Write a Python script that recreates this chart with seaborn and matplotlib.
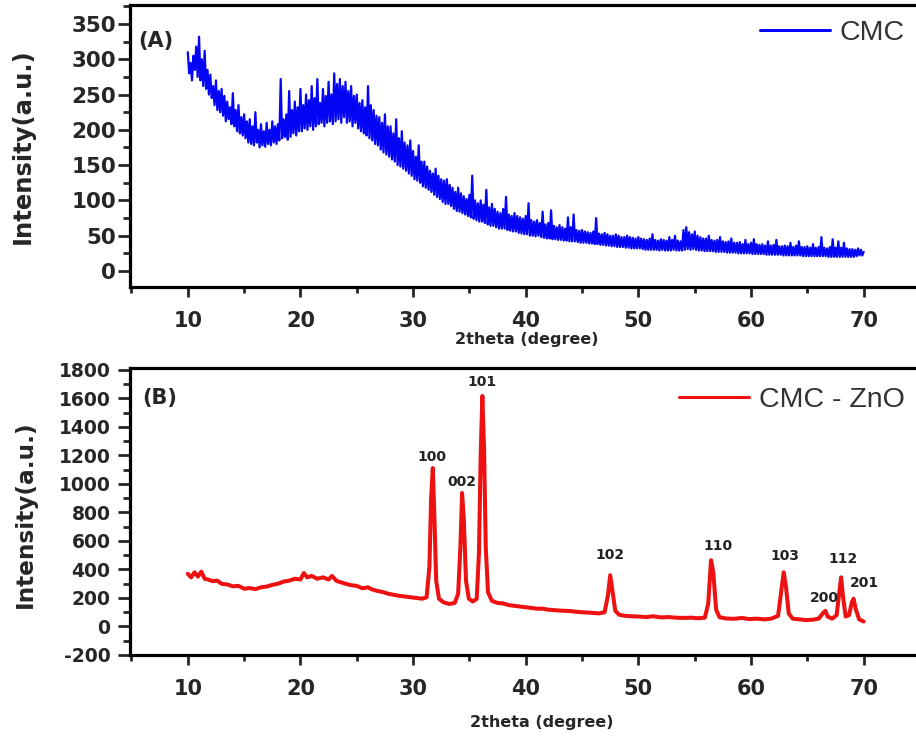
import numpy as np
import pandas as pd
import matplotlib
matplotlib.use("Agg")
import matplotlib.pyplot as plt
import seaborn as sns

# ---------------- data ----------------
cmc_start = 10.0
cmc_step = 0.125
cmc_y = [
    310, 280, 295, 270, 305, 285, 318, 275,
    332, 270, 300, 262, 312, 258, 285, 250,
    278, 245, 262, 235, 270, 228, 255, 225,
    258, 220, 248, 212, 240, 215, 232, 208,
    252, 205, 228, 198, 235, 195, 218, 192,
    222, 188, 212, 182, 215, 180, 205, 178,
    225, 182, 200, 175, 208, 178, 198, 176,
    210, 180, 200, 178, 212, 182, 205, 180,
    208, 185, 272, 188, 215, 190, 222, 186,
    255, 190, 228, 195, 240, 192, 232, 198,
    258, 198, 235, 202, 250, 200, 242, 205,
    262, 200, 245, 205, 272, 208, 238, 210,
    258, 205, 248, 210, 268, 212, 250, 208,
    280, 212, 265, 215, 272, 210, 262, 218,
    268, 210, 255, 212, 262, 205, 248, 210,
    250, 202, 238, 198, 242, 195, 232, 192,
    262, 188, 235, 185, 228, 180, 220, 178,
    218, 172, 210, 168, 222, 165, 205, 162,
    205, 158, 195, 155, 215, 150, 188, 148,
    198, 145, 182, 142, 178, 138, 185, 135,
    170, 130, 162, 128, 178, 125, 155, 120,
    155, 118, 148, 115, 142, 112, 138, 108,
    145, 105, 135, 102, 130, 98, 128, 95,
    130, 95, 122, 92, 118, 88, 112, 85,
    118, 84, 110, 82, 106, 80, 102, 78,
    108, 76, 135, 74, 100, 72, 96, 70,
    100, 70, 94, 68, 115, 66, 90, 64,
    95, 64, 88, 62, 84, 60, 82, 60,
    88, 60, 105, 58, 80, 57, 78, 56,
    82, 56, 78, 54, 76, 53, 74, 52,
    78, 52, 96, 50, 72, 50, 70, 49,
    72, 50, 68, 48, 84, 47, 66, 46,
    68, 46, 86, 45, 64, 45, 62, 44,
    65, 44, 62, 43, 60, 43, 76, 42,
    62, 42, 80, 42, 58, 41, 57, 40,
    58, 40, 56, 40, 55, 39, 54, 39,
    56, 38, 75, 38, 53, 37, 52, 37,
    54, 36, 52, 36, 50, 35, 50, 35,
    52, 34, 50, 34, 48, 34, 48, 33,
    50, 33, 48, 32, 47, 32, 46, 32,
    48, 32, 46, 31, 45, 30, 44, 30,
    46, 30, 52, 30, 44, 30, 43, 29,
    45, 30, 44, 29, 43, 29, 48, 29,
    44, 30, 50, 29, 43, 29, 42, 29,
    58, 30, 62, 31, 55, 30, 52, 31,
    56, 30, 50, 29, 48, 29, 46, 28,
    46, 28, 50, 28, 44, 28, 43, 27,
    44, 27, 48, 27, 42, 27, 41, 26,
    42, 26, 46, 26, 40, 26, 40, 25,
    41, 25, 38, 25, 44, 25, 38, 25,
    40, 24, 45, 24, 38, 24, 37, 24,
    38, 24, 36, 23, 42, 23, 36, 23,
    37, 23, 44, 23, 35, 23, 35, 22,
    36, 22, 35, 22, 40, 22, 34, 22,
    36, 22, 42, 22, 34, 21, 34, 21,
    35, 21, 33, 21, 38, 21, 33, 21,
    34, 21, 48, 21, 33, 21, 32, 20,
    34, 20, 45, 20, 33, 20, 42, 20,
    33, 20, 40, 20, 32, 20, 31, 20,
    31, 20, 30, 21, 32, 22, 30, 22,
    27,
]
cmc_x = [cmc_start + i * cmc_step for i in range(len(cmc_y))]

zno_x = [10.0, 10.3, 10.6, 10.9, 11.2, 11.5, 11.8, 12.2, 12.6, 13.0, 13.5, 14.0, 14.5,
         15.0, 15.5, 16.0, 16.5, 17.0, 17.5, 18.0, 18.5, 19.0, 19.5, 20.0, 20.3, 20.6,
         21.0, 21.5, 22.0, 22.5, 22.8, 23.2, 23.6, 24.0, 24.5, 25.0, 25.5, 26.0, 26.3,
         26.8, 27.3, 27.8, 28.3, 28.8, 29.3, 29.8, 30.3, 30.8, 31.2, 31.45, 31.6, 31.75,
         31.9, 32.05, 32.3, 32.7, 33.2, 33.7, 34.0, 34.2, 34.35, 34.5, 34.7, 34.95, 35.3,
         35.65, 35.85, 36.0, 36.15, 36.3, 36.45, 36.65, 37.0, 37.5, 38.0, 38.5, 39.0,
         39.5, 40.0, 40.5, 41.0, 41.5, 42.0, 42.5, 43.0, 43.5, 44.0, 44.5, 45.0, 45.5,
         46.0, 46.5, 47.0, 47.3, 47.5, 47.7, 47.95, 48.3, 48.8, 49.3, 50.0, 50.7, 51.3,
         52.0, 52.7, 53.3, 54.0, 54.7, 55.3, 55.9, 56.2, 56.45, 56.65, 56.9, 57.2, 57.8,
         58.5, 59.2, 59.8, 60.5, 61.2, 61.8, 62.4, 62.7, 62.9, 63.1, 63.35, 63.7, 64.3,
         64.9, 65.5, 66.0, 66.4, 66.6, 66.8, 67.2, 67.6, 67.85, 68.0, 68.15, 68.4, 68.7,
         68.95, 69.1, 69.3, 69.6, 70.0]
zno_y = [370, 345, 380, 350, 385, 335, 330, 318, 322, 300, 295, 282, 285,
         265, 270, 262, 275, 280, 292, 300, 315, 322, 335, 330, 375, 345,
         355, 335, 345, 330, 355, 320, 310, 300, 290, 285, 268, 275, 262,
         250, 242, 230, 222, 215, 210, 205, 200, 195, 205, 420, 900, 1112,
         750, 320, 195, 170, 158, 165, 230, 560, 937, 760, 320, 195, 175,
         195, 520, 1200, 1618, 1250, 560, 240, 180, 165, 162, 150, 145,
         140, 135, 130, 125, 125, 118, 115, 112, 110, 108, 103, 100, 98,
         95, 92, 100, 220, 360, 250, 110, 82, 75, 72, 70, 66, 72,
         64, 66, 62, 60, 62, 58, 62, 160, 465, 380, 120, 65, 56,
         54, 60, 52, 55, 50, 55, 75, 260, 380, 280, 90, 55, 50,
         45, 48, 55, 95, 110, 70, 55, 80, 250, 345, 220, 70, 80,
         170, 195, 120, 50, 35]

peak_labels = ["100", "002", "101", "102", "110", "103", "200", "112", "201"]
peak_label_x = [31.7, 34.3, 36.1, 47.5, 57.1, 63.0, 66.5, 68.2, 70.1]
peak_label_y = [1190, 1014, 1716, 502, 565, 495, 200, 474, 305]

x_ticks = [10, 20, 30, 40, 50, 60, 70]
top_yticks = [0, 50, 100, 150, 200, 250, 300, 350]
bot_yticks = [-200, 0, 200, 400, 600, 800, 1000, 1200, 1400, 1600, 1800]

df_cmc = pd.DataFrame({"x": cmc_x, "y": cmc_y})
df_zno = pd.DataFrame({"x": zno_x, "y": zno_y})

# ---------------- style ----------------
sns.set_style("ticks")
plt.rcParams["font.family"] = ["DejaVu Sans"]
plt.rcParams["axes.unicode_minus"] = False

W, H = 916, 737
fig = plt.figure(figsize=(W / 100, H / 100), dpi=100)

ax1 = fig.add_axes([130 / W, 1 - 287 / H, 790 / W, 282 / H])
ax2 = fig.add_axes([130 / W, 1 - 655 / H, 790 / W, 287 / H])

sns.lineplot(data=df_cmc, x="x", y="y", ax=ax1, color="#0505f5", lw=1.6, label="CMC")
sns.lineplot(data=df_zno, x="x", y="y", ax=ax2, color="#ee1111", lw=2.9, label="CMC - ZnO")

for ax in (ax1, ax2):
    ax.set_xlim(4.87, 74.8)
    ax.set_xticks(x_ticks)
    ax.set_xticks([5, 15, 25, 35, 45, 55, 65, 75], minor=True)
    for s in ax.spines.values():
        s.set_linewidth(2.3)
        s.set_color("black")
    ax.tick_params(axis="x", which="major", length=7, width=2, direction="out", pad=10,
                   labelsize=15)
    ax.tick_params(axis="x", which="minor", length=4, width=2, direction="out")
    ax.tick_params(axis="y", which="major", length=9, width=2, direction="out")
    ax.tick_params(axis="y", which="minor", length=5, width=2, direction="out")

ax1.set_ylim(-22.7, 376.9)
ax1.set_yticks(top_yticks)
ax1.set_yticks([v + 25 for v in top_yticks], minor=True)
ax1.tick_params(axis="y", which="major", labelsize=15.5, pad=1)

ax2.set_ylim(-200, 1814)
ax2.set_yticks(bot_yticks)
ax2.set_yticks([v + 100 for v in bot_yticks[:-1]], minor=True)
ax2.tick_params(axis="y", which="major", labelsize=13.5, pad=5)

for ax in (ax1, ax2):
    for lab in ax.get_xticklabels() + ax.get_yticklabels():
        lab.set_fontweight("bold")

ax1.set_xlabel("2theta (degree)", fontsize=11.5, fontweight="bold")
ax2.set_xlabel("2theta (degree)", fontsize=11.5, fontweight="bold")
ax1.xaxis.set_label_coords((527 - 130) / 790, (287 - 332) / 282)
ax2.xaxis.set_label_coords((542 - 130) / 790, (655 - 715) / 287)

ax1.set_ylabel("Intensity(a.u.)", fontsize=17.5, fontweight="bold")
ax2.set_ylabel("Intensity(a.u.)", fontsize=16.7, fontweight="bold")
ax1.yaxis.set_label_coords((35 - 130) / 790, 0.5)
ax2.yaxis.set_label_coords((37 - 130) / 790, 0.491)

ax1.text((138 - 130) / 790, (287 - 41) / 282, "(A)", transform=ax1.transAxes,
         fontsize=15, fontweight="bold", ha="left", va="center")
ax2.text((142 - 130) / 790, (655 - 398) / 287, "(B)", transform=ax2.transAxes,
         fontsize=15, fontweight="bold", ha="left", va="center")

for lab, px, py in zip(peak_labels, peak_label_x, peak_label_y):
    ax2.text(px, py, lab, ha="center", va="center", fontsize=10, fontweight="bold",
             color="#222222")

leg_font = {"family": "Liberation Sans", "size": 20.5}
l1 = ax1.legend(loc="upper right", bbox_to_anchor=((905 - 130) / 790, (287 - 20) / 282),
                frameon=False, prop=leg_font, handlelength=2.45, handletextpad=0.35,
                borderaxespad=0, borderpad=0)
l2 = ax2.legend(loc="upper right", bbox_to_anchor=((905 - 130) / 790, (655 - 387) / 287),
                frameon=False, prop=leg_font, handlelength=2.45, handletextpad=0.35,
                borderaxespad=0, borderpad=0)
for leg in (l1, l2):
    for t in leg.get_texts():
        t.set_color("#333333")
    for h in leg.get_lines():
        h.set_linewidth(2.2)

fig.savefig("out.png", dpi=100)
